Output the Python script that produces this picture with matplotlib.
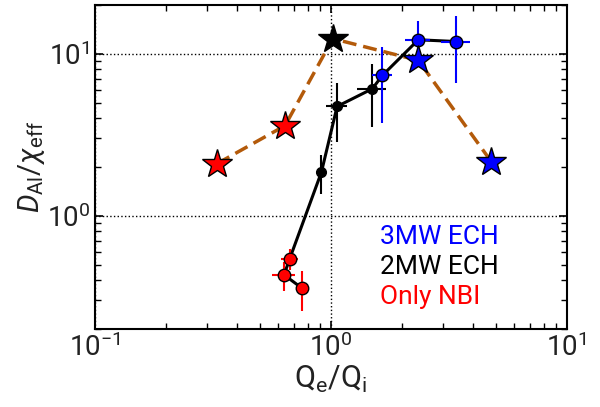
import matplotlib
matplotlib.use("Agg")
import matplotlib.pyplot as plt

plt.rcParams['font.family'] = ['Roboto', 'DejaVu Sans']
plt.rcParams['mathtext.fontset'] = 'custom'
plt.rcParams['mathtext.rm'] = 'Roboto'
plt.rcParams['mathtext.it'] = 'Roboto:italic'
plt.rcParams['mathtext.bf'] = 'Roboto:bold'

# stars (dashed line)
star_x = [0.33, 0.64, 1.02, 2.35, 4.8]
star_y = [2.1, 3.6, 12.4, 9.1, 2.15]
star_c = ['red', 'red', 'black', 'blue', 'blue']

# only NBI
nbi_x = [0.756, 0.634, 0.67]
nbi_y = [0.357, 0.432, 0.543]
nbi_xerr = [0.0, 0.07, 0.055]
nbi_yerr = [0.1, 0.09, 0.08]

# 2MW ECH
ech2_x = [0.913, 1.064, 1.50]
ech2_y = [1.86, 4.73, 6.08]
ech2_xerr = [0.03, 0.11, 0.21]
ech2_yerr = [0.5, 1.87, 2.55]

# 3MW ECH
ech3_x = [1.655, 2.35, 3.41]
ech3_y = [7.35, 12.2, 11.9]
ech3_xerr = [0.16, 0.29, 0.48]
ech3_yerr = [3.6, 3.7, 5.3]

fig = plt.figure(figsize=(6, 4.07), dpi=100)
ax = fig.add_axes([0.158, 0.1916, 0.7865, 0.7961])

ax.plot(star_x, star_y, '--', color='#b35a0a', lw=2.5, dashes=(4, 2), zorder=2)
for x, y, c in zip(star_x, star_y, star_c):
    ax.plot(x, y, '*', color=c, mec='black', mew=1.0, ms=22, zorder=5)

all_x = nbi_x + ech2_x + ech3_x
all_y = nbi_y + ech2_y + ech3_y
ax.plot(all_x, all_y, '-', color='black', lw=2.2, zorder=3)

ax.errorbar(nbi_x, nbi_y, xerr=nbi_xerr, yerr=nbi_yerr, fmt='o', color='red',
            ecolor='red', mec='black', mew=1, ms=9, elinewidth=1.5, capsize=0, zorder=4)
ax.errorbar(ech2_x, ech2_y, xerr=ech2_xerr, yerr=ech2_yerr, fmt='o', color='black',
            ecolor='black', mec='black', mew=1, ms=7, elinewidth=1.5, capsize=0, zorder=4)
ax.errorbar(ech3_x, ech3_y, xerr=ech3_xerr, yerr=ech3_yerr, fmt='o', color='blue',
            ecolor='blue', mec='black', mew=1, ms=9, elinewidth=1.5, capsize=0, zorder=4)

ax.set_xscale('log')
ax.set_yscale('log')
ax.set_xlim(0.1, 10)
ax.set_ylim(0.2, 20)

ax.grid(True, which='major', color='black', linestyle=':', lw=1)
ax.tick_params(which='both', direction='in', top=True, right=True, labelsize=20,
               labelcolor='#222222')
ax.tick_params(which='major', length=6, width=1.2)
ax.tick_params(which='minor', length=4, width=1)
for s in ax.spines.values():
    s.set_linewidth(1.5)

ax.set_xlabel(r'$\mathrm{Q_e/Q_i}$', fontsize=22, labelpad=1, color='#222222')
ax.set_ylabel(r'$D_{\mathrm{Al}}/\chi_{\mathrm{eff}}$', fontsize=21, labelpad=0, color='#222222')

ax.text(0.605, 0.283, '3MW ECH', color='blue', fontsize=19, transform=ax.transAxes, va='center')
ax.text(0.605, 0.191, '2MW ECH', color='black', fontsize=19, transform=ax.transAxes, va='center')
ax.text(0.605, 0.099, 'Only NBI', color='red', fontsize=19, transform=ax.transAxes, va='center')

fig.savefig('out.png', dpi=100)
